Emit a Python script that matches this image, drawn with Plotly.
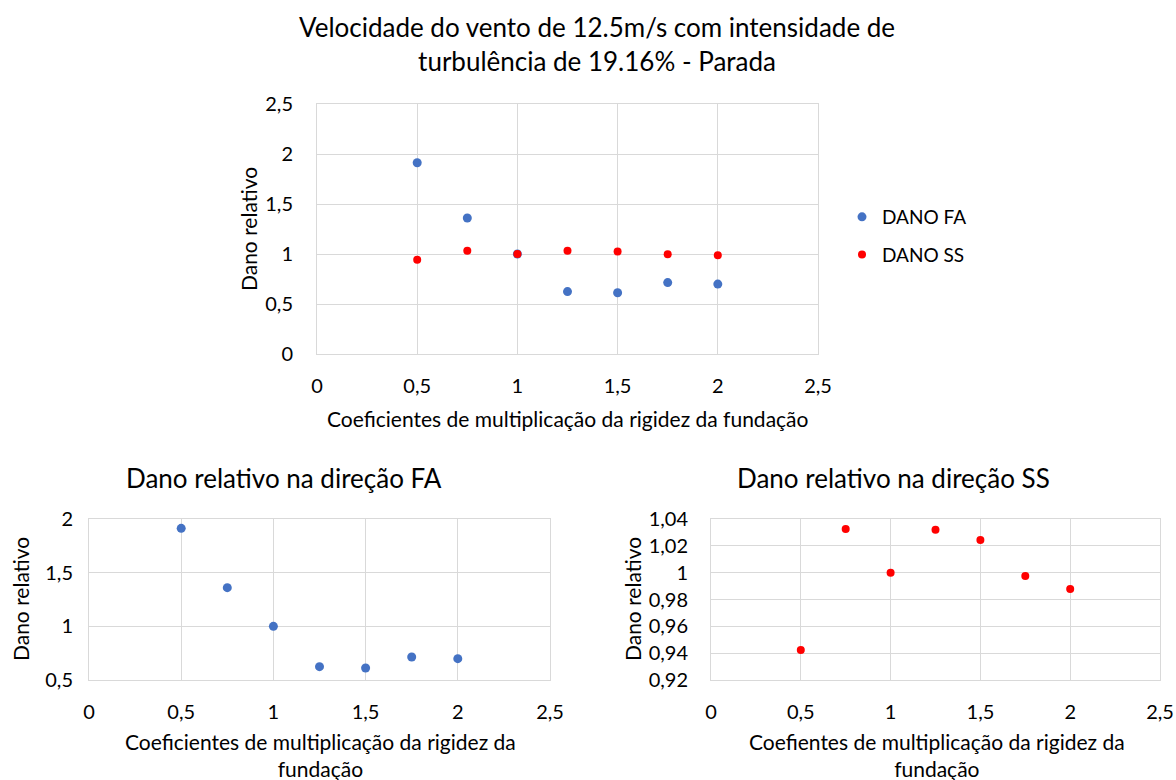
import plotly.graph_objects as go

# ---- data ----
coef = [0.5, 0.75, 1.0, 1.25, 1.5, 1.75, 2.0]
dano_fa = [1.913, 1.360, 1.000, 0.624, 0.612, 0.714, 0.699]
dano_ss = [0.9424, 1.0325, 1.0000, 1.0320, 1.0243, 0.9975, 0.9878]

main_title = "Velocidade do vento de 12.5m/s com intensidade de<br>turbulência de 19.16% - Parada"
fa_title = "Dano relativo na direção FA"
ss_title = "Dano relativo na direção SS"
x_title_top = "Coeficientes de multiplicação da rigidez da fundação"
x_title_fa = "Coeficientes de multiplicação da rigidez da<br>fundação"
x_title_ss = "Coefientes de multiplicação da rigidez da<br>fundação"
y_title = "Dano relativo"

W, H = 1176, 780
FONT = "Lato"
BLUE = "#4472C4"
RED = "#FF0000"
GRID = "#D9D9D9"
TXT = "#000000"

def px(x):
    return x / W

def py(y):
    return 1 - y / H

fig = go.Figure()

fig.add_trace(go.Scatter(x=coef, y=dano_fa, mode="markers", name="DANO FA", legendgroup="fa",
                         marker=dict(color=BLUE, size=9), xaxis="x", yaxis="y"))
fig.add_trace(go.Scatter(x=coef, y=dano_ss, mode="markers", name="DANO SS", legendgroup="ss",
                         marker=dict(color=RED, size=8), xaxis="x", yaxis="y"))
fig.add_trace(go.Scatter(x=coef, y=dano_fa, mode="markers", showlegend=False,
                         marker=dict(color=BLUE, size=9), xaxis="x2", yaxis="y2"))
fig.add_trace(go.Scatter(x=coef, y=dano_ss, mode="markers", showlegend=False,
                         marker=dict(color=RED, size=8), xaxis="x3", yaxis="y3"))

axis_common = dict(showgrid=True, gridcolor=GRID, gridwidth=1, zeroline=False,
                   showline=True, linecolor=GRID, linewidth=1, mirror=True,
                   ticks="", tickfont=dict(family=FONT, size=20, color=TXT),
                   fixedrange=True, automargin=False)
xcommon = dict(axis_common, ticklabelstandoff=14)

fig.update_layout(
    width=W, height=H,
    margin=dict(l=0, r=0, t=0, b=0, pad=0, autoexpand=False),
    paper_bgcolor="white", plot_bgcolor="white",
    separators=",.",
    font=dict(family=FONT, color=TXT),
    showlegend=True,
    legend=dict(x=px(842), y=py(198), xanchor="left", yanchor="top",
                font=dict(family=FONT, size=19, color=TXT),
                traceorder="grouped", tracegroupgap=10,
                itemwidth=30, bgcolor="rgba(0,0,0,0)"),
    xaxis=dict(domain=[px(317), px(818)], range=[0, 2.5], dtick=0.5, anchor="y", **xcommon),
    yaxis=dict(domain=[py(354), py(104)], range=[0, 2.5], dtick=0.5, anchor="x",
               ticklabelstandoff=19, **axis_common),
    xaxis2=dict(domain=[px(89), px(550)], range=[0, 2.5], dtick=0.5, anchor="y2", **xcommon),
    yaxis2=dict(domain=[py(680), py(519)], range=[0.5, 2], dtick=0.5, anchor="x2",
                ticklabelstandoff=11, **axis_common),
    xaxis3=dict(domain=[px(711), px(1160)], range=[0, 2.5], dtick=0.5, anchor="y3", **xcommon),
    yaxis3=dict(domain=[py(680), py(519)], range=[0.92, 1.04], dtick=0.02, anchor="x3",
                ticklabelstandoff=18, **axis_common),
)

def ann(text, x, y, size, angle=0):
    fig.add_annotation(text=text, x=px(x), y=py(y), xref="paper", yref="paper",
                       showarrow=False, xanchor="center", yanchor="middle",
                       textangle=angle, font=dict(family=FONT, size=size, color=TXT))

ann(main_title, 597, 44, 26)
ann(fa_title, 284, 478, 26)
ann(ss_title, 893, 478, 26)
ann(x_title_top, 568, 418, 21)
ann(x_title_fa, 320, 755, 21)
ann(x_title_ss, 937, 755, 21)
ann(y_title, 248, 229, 21, -90)
ann(y_title, 20, 599, 21, -90)
ann(y_title, 632, 599, 21, -90)

fig.write_html(
    "out.html",
    config={"displayModeBar": False},
    post_script="document.body.style.margin='0px';document.body.style.padding='0px';document.body.style.overflow='hidden';",
)
